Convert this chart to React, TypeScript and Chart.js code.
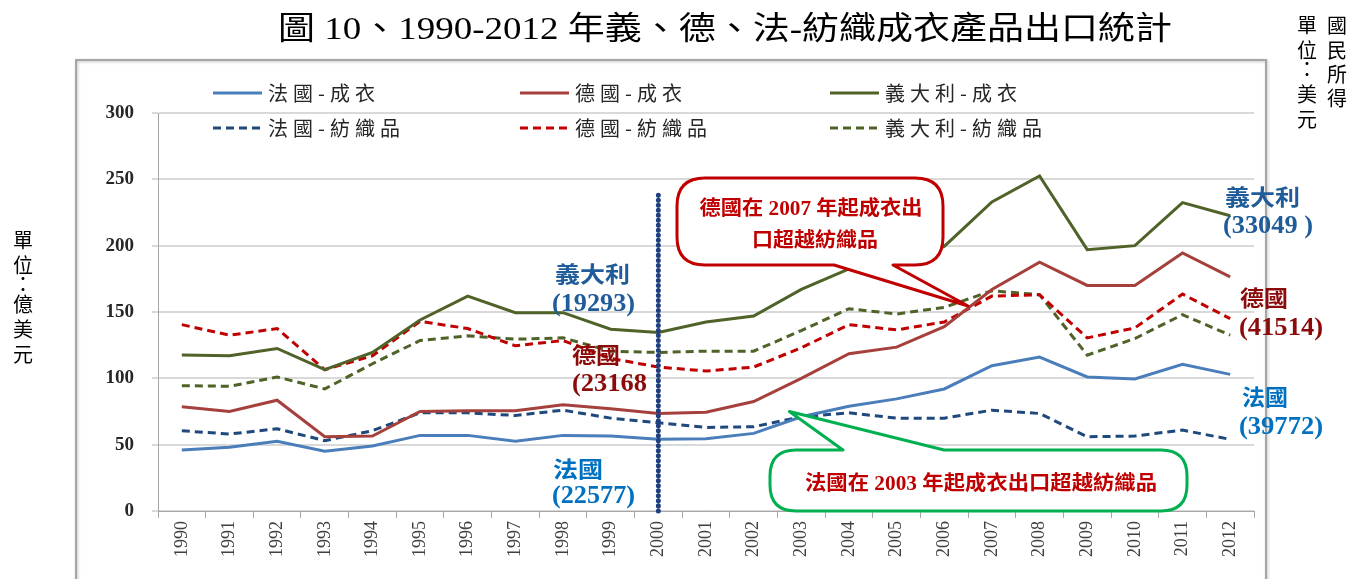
import React, { useEffect, useRef } from 'react';
import { Chart, registerables } from 'chart.js';

Chart.register(...registerables);

// ---------- data ----------
const years = ['1990','1991','1992','1993','1994','1995','1996','1997','1998','1999','2000','2001','2002','2003','2004','2005','2006','2007','2008','2009','2010','2011','2012'];

const franceApparel = [46, 48, 52.5, 45, 49, 57, 57, 52.5, 57, 56.5, 54, 54.5, 58.5, 71, 79, 84.5, 92, 109.5, 116, 101, 99.5, 110.5, 103];
const franceTextiles = [60.5, 58, 62, 53, 60.5, 74, 74, 72, 76, 70, 66.5, 63, 63.5, 71, 74, 70, 70, 76, 73.5, 56, 56.5, 61, 54];
const germanyApparel = [78.5, 75, 83.5, 56, 56.5, 75, 75.5, 75.5, 80, 77, 73.5, 74.5, 82.5, 100, 118.5, 123.5, 139, 167, 187.5, 170, 170, 194.5, 176.5];
const germanyTextiles = [140.5, 132.5, 137.5, 106.5, 117, 143, 137.5, 124.5, 128.5, 115, 108.5, 105.5, 108.5, 123, 140.5, 136.5, 142.5, 162, 163, 130.5, 138, 163.5, 145];
const italyApparel = [117.5, 117, 122.5, 106.5, 119.5, 144, 162, 149.5, 149.5, 137, 134.5, 142.5, 147, 167, 182.5, 187, 199.5, 233, 252.5, 197, 200, 232.5, 222.5];
const italyTextiles = [94.5, 94, 101, 92, 111, 128.5, 132, 129.5, 130.5, 120.5, 119.5, 120.5, 120.5, 136, 152.5, 148.5, 153.5, 166, 163, 117.5, 130, 148, 132.5];

const seriesLabels = ['法國-成衣', '德國-成衣', '義大利-成衣', '法國-紡織品', '德國-紡織品', '義大利-紡織品'];
const yTicks = [0, 50, 100, 150, 200, 250, 300];

const titleText = '圖 10、1990-2012 年義、德、法-紡織成衣產品出口統計';
const yUnitText = ['單', '位', '：', '億', '美', '元'];
const incomeText = ['國', '民', '所', '得'];
const incomeUnitText = ['單', '位', '：', '美', '元'];
const calloutGermany = ['德國在 2007 年起成衣出', '口超越紡織品'];
const calloutFrance = '法國在 2003 年起成衣出口超越紡織品';

const SERIF = "'Liberation Serif', 'Noto Sans CJK TC', serif";

function drawText(
  ctx: CanvasRenderingContext2D,
  str: string,
  x: number,
  y: number,
  font: string,
  color: string,
  align: CanvasTextAlign = 'center',
  width?: number,
  spacing?: number
) {
  ctx.save();
  ctx.font = font;
  ctx.fillStyle = color;
  ctx.textBaseline = 'middle';
  ctx.textAlign = align;
  if (spacing) (ctx as any).letterSpacing = spacing + 'px';
  let sx = 1;
  if (width) {
    const w = ctx.measureText(str).width;
    if (w > 0) sx = width / w;
  }
  ctx.translate(x, y);
  ctx.scale(sx, 1);
  ctx.fillText(str, 0, 0);
  ctx.restore();
}

function callout(
  ctx: CanvasRenderingContext2D,
  l: number, t: number, r: number, b: number, rad: number,
  edge: 'top' | 'bottom', b1: number, b2: number, tipX: number, tipY: number,
  color: string
) {
  ctx.save();
  ctx.beginPath();
  ctx.moveTo(l + rad, t);
  if (edge === 'top') {
    ctx.lineTo(b1, t);
    ctx.lineTo(tipX, tipY);
    ctx.lineTo(b2, t);
  }
  ctx.lineTo(r - rad, t);
  ctx.quadraticCurveTo(r, t, r, t + rad);
  ctx.lineTo(r, b - rad);
  ctx.quadraticCurveTo(r, b, r - rad, b);
  if (edge === 'bottom') {
    ctx.lineTo(b2, b);
    ctx.lineTo(tipX, tipY);
    ctx.lineTo(b1, b);
  }
  ctx.lineTo(l + rad, b);
  ctx.quadraticCurveTo(l, b, l, b - rad);
  ctx.lineTo(l, t + rad);
  ctx.quadraticCurveTo(l, t, l + rad, t);
  ctx.closePath();
  ctx.fillStyle = '#FFFFFF';
  ctx.fill();
  ctx.lineWidth = 3;
  ctx.lineJoin = 'round';
  ctx.strokeStyle = color;
  ctx.stroke();
  ctx.restore();
}

const overlayPlugin = {
  id: 'overlay',
  beforeDraw(chart: any) {
    const ctx = chart.ctx as CanvasRenderingContext2D;
    ctx.save();
    ctx.fillStyle = '#FFFFFF';
    ctx.fillRect(0, 0, chart.width, chart.height);
    ctx.shadowColor = 'rgba(0,0,0,0.25)';
    ctx.shadowBlur = 3;
    ctx.shadowOffsetX = 1;
    ctx.shadowOffsetY = 1;
    ctx.strokeStyle = '#A6A6A6';
    ctx.lineWidth = 2;
    ctx.strokeRect(76, 60, 1190, 560);
    ctx.restore();
  },
  afterDraw(chart: any) {
    const ctx = chart.ctx as CanvasRenderingContext2D;
    const xs = chart.scales.x;
    const ys = chart.scales.y;

    // legend
    const colX = [213, 520, 830];
    const rowY = [93, 128];
    chart.data.datasets.forEach((ds: any, i: number) => {
      const cx = colX[i % 3];
      const cy = rowY[Math.floor(i / 3)];
      ctx.save();
      ctx.strokeStyle = ds.borderColor;
      ctx.lineWidth = 3;
      ctx.setLineDash(ds.borderDash || []);
      ctx.beginPath();
      ctx.moveTo(cx, cy);
      ctx.lineTo(cx + 49, cy);
      ctx.stroke();
      ctx.restore();
      drawText(ctx, ds.label, cx + 55, cy, "20px 'Noto Sans CJK TC', serif", '#262626', 'left', undefined, 5);
    });

    // vertical dotted line at 2000
    const x2000 = xs.getPixelForValue(10);
    ctx.save();
    ctx.strokeStyle = '#1F3F7F';
    ctx.lineWidth = 5;
    ctx.lineCap = 'round';
    ctx.setLineDash([0.01, 5]);
    ctx.beginPath();
    ctx.moveTo(x2000, ys.getPixelForValue(238));
    ctx.lineTo(x2000, ys.getPixelForValue(0));
    ctx.stroke();
    ctx.restore();

    // callouts
    callout(ctx, 677, 178, 943, 265, 28, 'bottom', 834, 893,
      xs.getPixelForValue(16.5), ys.getPixelForValue(154.5), '#C00000');
    drawText(ctx, calloutGermany[0], 811, 210, "bold 20px " + SERIF, '#C00000', 'center', 223);
    drawText(ctx, calloutGermany[1], 815, 242, "bold 20px " + SERIF, '#C00000', 'center', 126);

    callout(ctx, 770, 450, 1187, 511, 26, 'top', 843, 944,
      xs.getPixelForValue(12.75), ys.getPixelForValue(75), '#00B050');
    drawText(ctx, calloutFrance, 981, 485, "bold 20px " + SERIF, '#C00000', 'center', 352);

    // country labels
    const blueDark = '#1F5C99';
    const red = '#8B0A0A';
    const blue = '#0070C0';
    const cjkB = "bold 22px 'Noto Sans CJK TC', serif";
    const numB = "bold 25px 'Liberation Serif', serif";
    drawText(ctx, '義大利', 555, 274, cjkB, blueDark, 'left', 75);
    drawText(ctx, '(19293)', 552, 305, numB, blueDark, 'left', 83);
    drawText(ctx, '德國', 572, 355, cjkB, red, 'left', 48);
    drawText(ctx, '(23168', 572, 385, numB, red, 'left', 75);
    drawText(ctx, '法國', 553, 469, cjkB, blue, 'left', 50);
    drawText(ctx, '(22577)', 552, 497, numB, blue, 'left', 83);

    drawText(ctx, '義大利', 1225, 197, cjkB, blueDark, 'left', 75);
    drawText(ctx, '(33049 )', 1223, 227, numB, blueDark, 'left', 90);
    drawText(ctx, '德國', 1240, 298, cjkB, red, 'left', 48);
    drawText(ctx, '(41514)', 1239, 329, numB, red, 'left', 84);
    drawText(ctx, '法國', 1242, 397, cjkB, blue, 'left', 46);
    drawText(ctx, '(39772)', 1239, 428, numB, blue, 'left', 84);

    // title
    drawText(ctx, titleText, 725, 31, "32px " + SERIF, '#000000', 'center', 894);

    // vertical unit texts
    const vfont = "20px 'Noto Sans CJK TC', serif";
    const leftY = [240, 265, 284, 304, 329, 354];
    yUnitText.forEach((c, i) => drawText(ctx, c, 23, leftY[i], vfont, '#000000'));
    const incY = [25, 50, 74, 98];
    incomeText.forEach((c, i) => drawText(ctx, c, 1337, incY[i], vfont, '#000000'));
    const unitY = [25, 50, 69, 94, 119];
    incomeUnitText.forEach((c, i) => drawText(ctx, c, 1307, unitY[i], vfont, '#000000'));
  },
};

export default function App() {
  const ref = useRef<HTMLCanvasElement | null>(null);
  useEffect(() => {
    if (!ref.current) return;
    const colors = ['#4A7EBB', '#A6403D', '#4F6228', '#1F497D', '#C00000', '#4F6228'];
    const values = [franceApparel, germanyApparel, italyApparel, franceTextiles, germanyTextiles, italyTextiles];
    const chart = new Chart(ref.current, {
      type: 'line',
      data: {
        labels: years,
        datasets: values.map((v, i) => ({
          label: seriesLabels[i],
          data: v,
          borderColor: colors[i],
          backgroundColor: colors[i],
          borderWidth: 3,
          borderDash: i >= 3 ? [8, 5] : [],
          pointRadius: 0,
          tension: 0,
          fill: false,
        })),
      },
      options: {
        responsive: false,
        animation: false,
        layout: { padding: { top: 113, right: 97, left: 0, bottom: 0 } },
        plugins: { legend: { display: false }, title: { display: false }, tooltip: { enabled: false } },
        scales: {
          x: {
            offset: true,
            grid: { display: true, drawOnChartArea: false, drawTicks: true, tickLength: 7, color: '#A6A6A6', offset: true },
            border: { color: '#A6A6A6', width: 1 },
            ticks: {
              autoSkip: false,
              maxRotation: 90,
              minRotation: 90,
              padding: 3,
              color: '#404040',
              font: { family: SERIF, size: 18 },
            },
            afterFit: (s: any) => { s.height = 68; },
          },
          y: {
            min: 0,
            max: 300,
            afterBuildTicks: (s: any) => { s.ticks = yTicks.map((v) => ({ value: v })); },
            ticks: { padding: 18, color: '#262626', font: { family: SERIF, size: 19, weight: 'bold' } },
            grid: { color: '#D9D9D9', lineWidth: 2, tickLength: 6, drawTicks: true },
            border: { color: '#A6A6A6', width: 1 },
            afterFit: (s: any) => { s.width = 158; },
          },
        },
      },
      plugins: [overlayPlugin],
    } as any);
    return () => chart.destroy();
  }, []);
  return (
    <div style={{ position: 'absolute', left: 0, top: 0, width: 1351, height: 579 }}>
      <canvas ref={ref} width={1351} height={579} style={{ display: 'block' }} />
    </div>
  );
}
